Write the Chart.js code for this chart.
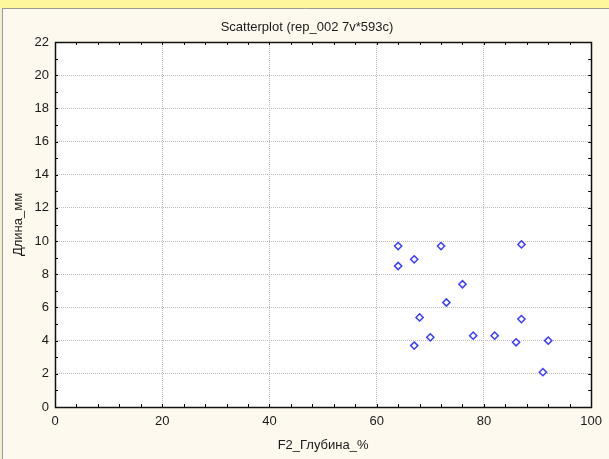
<!DOCTYPE html>
<html>
<head>
<meta charset="utf-8">
<title>Scatterplot</title>
<script src="https://cdn.jsdelivr.net/npm/chart.js@4/dist/chart.umd.min.js"></script>
<style>
  html, body { margin: 0; padding: 0; background: #fdf9ee; }
  #wrap { width: 609px; height: 459px; }
</style>
</head>
<body>
<div id="wrap"><canvas id="c" width="609" height="459"></canvas></div>
<script>
// Depth (%) vs. length (mm) for each specimen
const depthPct = [64, 72, 87, 67, 64, 76, 73, 68, 87, 70, 78, 82, 67, 86, 92, 91];
const lengthMm = [9.7, 9.7, 9.8, 8.9, 8.5, 7.4, 6.3, 5.4, 5.3, 4.2, 4.3, 4.3, 3.7, 3.9, 4.0, 2.1];

const xRange = [0, 100];
const yRange = [0, 22];
const xMajorStep = 20, xMinorStep = 4;
const yMajorStep = 2, yMinorStep = 1;

const chartTitle = 'Scatterplot (rep_002 7v*593c)';
const xTitle = 'F2_Глубина_%';
const yTitle = 'Длина_мм';

const points = depthPct.map((d, i) => ({ x: d, y: lengthMm[i] }));

const FONT = 'Arial, "Liberation Sans", sans-serif';
const TEXT = '#1a1a1a';

// Window background, frame, plot border and inward tick marks
const framePlugin = {
  id: 'frame',
  beforeDraw(chart) {
    const { ctx, width, height } = chart;
    ctx.save();
    ctx.fillStyle = '#fdf9ee';
    ctx.fillRect(0, 0, width, height);
    ctx.fillStyle = '#fff79c';
    ctx.fillRect(0, 0, width, 8);
    ctx.fillStyle = '#f3eecf';
    ctx.fillRect(0, 8, 2, height - 8);
    ctx.strokeStyle = '#9a9a94';
    ctx.lineWidth = 1;
    ctx.beginPath();
    ctx.moveTo(2, 8.5); ctx.lineTo(width, 8.5);
    ctx.moveTo(2.5, 8); ctx.lineTo(2.5, height);
    ctx.stroke();
    const a = chart.chartArea;
    ctx.fillStyle = '#ffffff';
    ctx.fillRect(a.left, a.top, a.right - a.left, a.bottom - a.top);
    ctx.restore();
  },
  beforeDatasetsDraw(chart) {
    const { ctx } = chart;
    const a = chart.chartArea;
    const xs = chart.scales.x, ys = chart.scales.y;
    ctx.save();
    ctx.strokeStyle = '#000';
    ctx.lineWidth = 1;
    ctx.beginPath();
    const tl = 3;
    for (let v = xRange[0] + xMinorStep; v < xRange[1]; v += xMinorStep) {
      const px = Math.round(xs.getPixelForValue(v)) + 0.5;
      ctx.moveTo(px, a.bottom); ctx.lineTo(px, a.bottom - tl);
      ctx.moveTo(px, a.top); ctx.lineTo(px, a.top + tl);
    }
    for (let v = yRange[0] + yMinorStep; v < yRange[1]; v += yMinorStep) {
      const py = Math.round(ys.getPixelForValue(v)) + 0.5;
      ctx.moveTo(a.left, py); ctx.lineTo(a.left + tl, py);
      ctx.moveTo(a.right, py); ctx.lineTo(a.right - tl, py);
    }
    ctx.stroke();
    ctx.lineWidth = 1.5;
    ctx.strokeStyle = '#111';
    ctx.strokeRect(Math.round(a.left) + 0.5, Math.round(a.top) + 0.5,
      Math.round(a.right - a.left), Math.round(a.bottom - a.top));
    ctx.restore();
  }
};

const hideEdges = (range) => (ctx) =>
  (ctx.tick && (ctx.tick.value === range[0] || ctx.tick.value === range[1])) ? 'rgba(0,0,0,0)' : '#bcbcbc';

new Chart(document.getElementById('c'), {
  type: 'scatter',
  data: {
    datasets: [{
      data: points,
      pointStyle: 'rectRot',
      pointRadius: 3.6,
      pointHoverRadius: 3.6,
      borderWidth: 1.5,
      borderColor: '#3c3cff',
      backgroundColor: '#ffffff'
    }]
  },
  options: {
    responsive: false,
    animation: false,
    layout: { padding: { top: 0, right: 15, bottom: 0, left: 20 } },
    plugins: {
      legend: { display: false },
      tooltip: { enabled: false },
      title: {
        display: true,
        text: chartTitle,
        color: TEXT,
        font: { family: FONT, size: 13, weight: 'normal' },
        padding: { top: 19.2, bottom: 7.2 }
      }
    },
    scales: {
      x: {
        type: 'linear',
        min: xRange[0], max: xRange[1],
        border: { display: false, dash: [1, 1] },
        grid: { color: hideEdges(xRange), drawTicks: false, lineWidth: 1 },
        ticks: { stepSize: xMajorStep, padding: 7, color: TEXT, font: { family: FONT, size: 13 } },
        title: { display: true, text: xTitle, color: TEXT, font: { family: FONT, size: 13 }, padding: { top: 0, bottom: 6.2 } },
        afterFit(scale) { scale.height = 52; }
      },
      y: {
        type: 'linear',
        min: yRange[0], max: yRange[1],
        border: { display: false, dash: [1, 1] },
        grid: { color: hideEdges(yRange), drawTicks: false, lineWidth: 1 },
        ticks: { stepSize: yMajorStep, padding: 6, color: TEXT, font: { family: FONT, size: 13 } },
        title: { display: true, text: yTitle, color: TEXT, font: { family: FONT, size: 13 }, padding: { top: -9.8, bottom: 0 } },
        afterFit(scale) { scale.width = 35; }
      }
    }
  },
  plugins: [framePlugin]
});
</script>
</body>
</html>
